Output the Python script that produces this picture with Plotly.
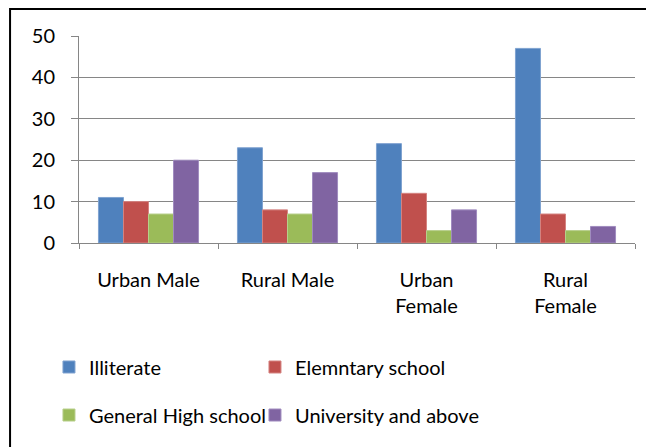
import plotly.graph_objects as go

categories = ["Urban Male", "Rural Male", "Urban<br>Female", "Rural<br>Female"]
series_names = ["Illiterate", "Elemntary school", "General High school", "University and above"]
illiterate = [11, 23, 24, 47]
elementary = [10, 8, 12, 7]
high_school = [7, 7, 3, 3]
university = [20, 17, 8, 4]
colors = ["#4F81BD", "#C0504D", "#9BBB59", "#8064A2"]
edge_colors = ["#7FA2D0", "#D48380", "#B7CF8B", "#A08CBF"]
y_ticks = [0, 10, 20, 30, 40, 50]

FONT = "Lato, Carlito, Calibri, sans-serif"

fig = go.Figure()
values = [illiterate, elementary, high_school, university]
legends = ["legend", "legend2", "legend3", "legend4"]
for name, vals, c, ec, lg in zip(series_names, values, colors, edge_colors, legends):
    fig.add_trace(go.Bar(
        x=categories, y=vals, name=name,
        marker=dict(color=c, line=dict(color=ec, width=1)),
        legend=lg,
    ))

legend_common = dict(
    orientation="h", xanchor="left", yanchor="middle",
    font=dict(family=FONT, size=20, color="black"),
    bgcolor="rgba(0,0,0,0)", borderwidth=0,
)
col1, col2 = -0.054, 0.3165
row1, row2 = -0.599, -0.831

fig.update_layout(
    width=654, height=447,
    margin=dict(l=71, r=27, t=28, b=212),
    paper_bgcolor="white", plot_bgcolor="white",
    barmode="group", bargap=0.28, bargroupgap=0,
    font=dict(family=FONT, size=20, color="black"),
    showlegend=True,
    legend=dict(x=col1, y=row1, **legend_common),
    legend2=dict(x=col2, y=row1, **legend_common),
    legend3=dict(x=col1, y=row2, **legend_common),
    legend4=dict(x=col2, y=row2, **legend_common),
    xaxis=dict(
        showline=True, linecolor="#868686", linewidth=1,
        ticks="outside", tickson="boundaries", ticklen=5, tickcolor="#868686",
        showgrid=False, tickfont=dict(family=FONT, size=20, color="black"),
        ticklabelstandoff=19,
    ),
    yaxis=dict(
        range=[0, 50], tickvals=y_ticks, showline=True, linecolor="#868686", linewidth=1,
        ticks="outside", ticklen=7, tickcolor="#868686",
        showgrid=True, gridcolor="#868686", gridwidth=1, zeroline=False,
        tickfont=dict(family=FONT, size=20, color="black"),
        ticklabelstandoff=12,
    ),
    shapes=[dict(
        type="rect", xref="paper", yref="paper",
        x0=-0.124, x1=1.3, y0=-1.3, y1=1.130,
        line=dict(color="black", width=2), fillcolor="rgba(0,0,0,0)", layer="above",
    )],
)

fig.write_html("out.html")
